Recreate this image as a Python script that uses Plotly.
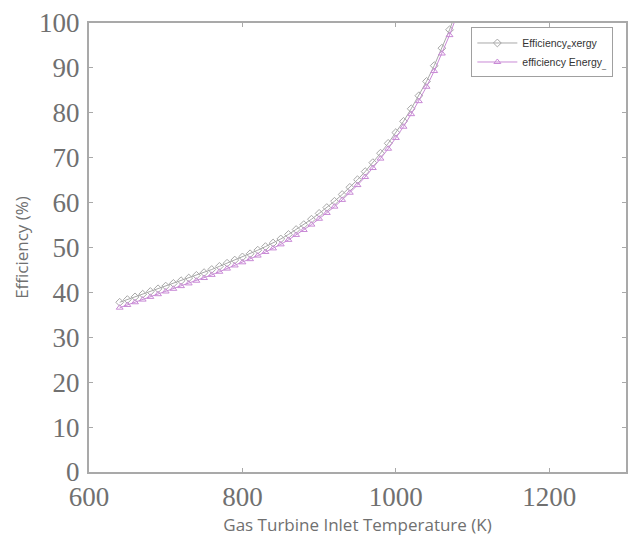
import plotly.graph_objects as go

# Gas turbine inlet temperature (K)
temperature = [640, 650, 660, 670, 680, 690, 700, 710, 720, 730,
               740, 750, 760, 770, 780, 790, 800, 810, 820, 830,
               840, 850, 860, 870, 880, 890, 900, 910, 920, 930,
               940, 950, 960, 970, 980, 990, 1000, 1010, 1020, 1030,
               1040, 1050, 1060, 1070, 1080]

# Exergy efficiency (%)
eff_exergy = [37.8, 38.4, 39.0, 39.6, 40.2, 40.8, 41.4, 42.0, 42.6, 43.2,
              43.8, 44.4, 45.1, 45.8, 46.5, 47.2, 47.9, 48.6, 49.4, 50.2,
              51.0, 51.9, 52.9, 54.0, 55.1, 56.3, 57.6, 58.9, 60.3, 61.8,
              63.4, 65.1, 66.9, 68.9, 71.0, 73.2, 75.6, 78.1, 80.9, 83.8,
              87.0, 90.5, 94.4, 98.5, 103.1]

# Energy efficiency (%)
eff_energy = [36.6, 37.2, 37.8, 38.4, 39.0, 39.6, 40.2, 40.8, 41.4, 42.0,
              42.6, 43.2, 43.9, 44.6, 45.3, 46.0, 46.7, 47.4, 48.2, 49.0,
              49.8, 50.7, 51.7, 52.8, 53.9, 55.1, 56.4, 57.7, 59.1, 60.6,
              62.2, 63.9, 65.7, 67.7, 69.8, 72.0, 74.4, 76.9, 79.7, 82.6,
              85.8, 89.3, 93.2, 97.3, 101.9]

x_ticks = [600, 800, 1000, 1200]
y_ticks = [0, 10, 20, 30, 40, 50, 60, 70, 80, 90, 100]

fig = go.Figure()

fig.add_trace(go.Scatter(
    x=temperature, y=eff_exergy, mode="lines+markers",
    name="Efficiency<sub>e</sub>xergy",
    line=dict(color="#a8a8a8", width=1),
    marker=dict(symbol="diamond-open", size=6, color="#a8a8a8",
                line=dict(width=1)),
))

fig.add_trace(go.Scatter(
    x=temperature, y=eff_energy, mode="lines+markers",
    name="efficiency Energy<sub>_</sub>",
    line=dict(color="#c98ad6", width=1),
    marker=dict(symbol="triangle-up-open", size=6, color="#c98ad6",
                line=dict(width=1)),
))

axis_common = dict(
    showline=True, linecolor="#a9a9a9", linewidth=2, mirror="ticks",
    ticks="inside", ticklen=4, tickcolor="#a9a9a9", tickwidth=1,
    showgrid=False, zeroline=False,
    tickfont=dict(family="Liberation Serif", size=27, color="#707070"),
)

fig.update_xaxes(
    range=[600, 1300], tickvals=x_ticks, ticklabelstandoff=0,
    title=dict(text="Gas Turbine Inlet Temperature (K)",
               font=dict(family="Open Sans", size=17, color="#707070"),
               standoff=8),
    **axis_common,
)

fig.update_yaxes(
    range=[0, 100], tickvals=y_ticks, ticklabelstandoff=2,
    title=dict(text="Efficiency (%)",
               font=dict(family="Open Sans", size=17, color="#707070"),
               standoff=6),
    **axis_common,
)

fig.update_layout(
    width=629, height=550,
    margin=dict(l=89, r=1, t=23, b=78),
    paper_bgcolor="white", plot_bgcolor="white",
    legend=dict(
        x=0.712, y=0.99, xanchor="left", yanchor="top",
        bgcolor="white", bordercolor="#a0a0a0", borderwidth=1,
        font=dict(family="Liberation Sans", size=10.5, color="#333333"),
        itemwidth=40, tracegroupgap=0,
    ),
    showlegend=True,
)

fig.write_html("out.html")
